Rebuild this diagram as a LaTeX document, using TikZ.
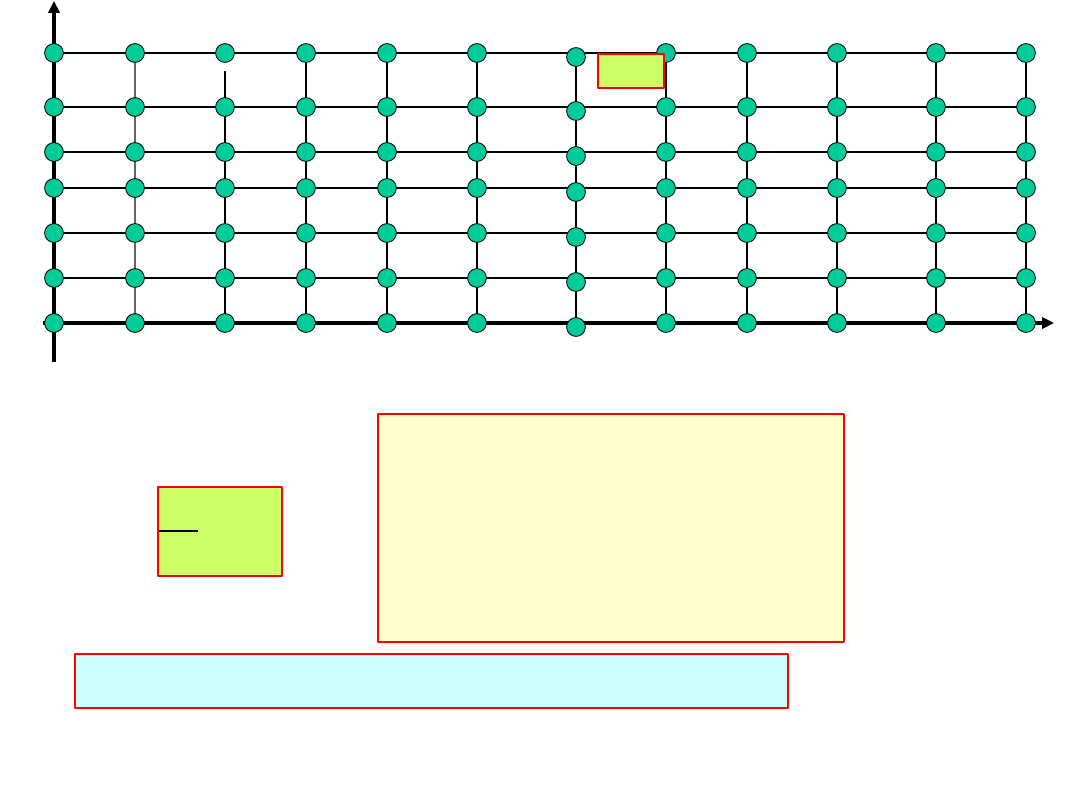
\documentclass[tikz,border=0pt]{standalone}
\usetikzlibrary{backgrounds,arrows.meta}
\definecolor{dotgreen}{HTML}{00CC99}
\definecolor{limebox}{HTML}{CCFF66}
\definecolor{creambox}{HTML}{FFFFCC}
\definecolor{cyanbox}{HTML}{CCFFFF}
\tikzset{
	dot/.style={circle, draw=black, line width=0.6pt, fill=dotgreen, inner sep=0pt, minimum size=0.47cm},
	gridline/.style={line width=1.6pt},
	faintline/.style={line width=1.1pt, draw=black!60},
	axis/.style={line width=2.9pt, -{Triangle[length=8.5pt,width=8pt]}},
	box/.style={draw=red, line width=1.3pt, inner sep=0pt, anchor=north west}
}
\begin{document}
\begin{tikzpicture}[x=0.025cm, y=-0.025cm, line join=round]
	\useasboundingbox (0,0) rectangle (1080,810);
	% grid points (column 7 sits a little lower)
	\foreach \c/\x/\dy in {1/54/0,2/135/0,3/225/0,4/306/0,5/387/0,6/477/0,7/576/4,8/666/0,9/747/0,10/837/0,11/936/0,12/1026/0}
		\foreach \r/\y in {1/53,2/107,3/152,4/188,5/233,6/278,7/323}
			\node[dot] (n-\c-\r) at (\x,\y+\dy) {};
	\coordinate (ybot) at (54,362);
	\coordinate (ytop) at (54,1);
	\coordinate (xleft) at (43,323);
	\coordinate (xright) at (1054,323);
	\coordinate (c3top) at (225,71);
	\begin{scope}[on background layer]
		\foreach \r in {1,...,6}
			\draw[gridline] (n-1-\r.center) -- (n-12-\r.center);
		\foreach \c in {4,...,12}
			\draw[gridline] (n-\c-1.center) -- (n-\c-7.center);
		\draw[faintline] (n-2-1.center) -- (n-2-7.center);
		\draw[gridline] (c3top) -- (n-3-7.center);
		\draw[axis] (xleft) -- (xright);
		\draw[axis] (ybot) -- (ytop);
	\end{scope}
	% boxes
	\node[box, fill=limebox, minimum width=1.65cm, minimum height=0.85cm] (tag) at (597,53) {};
	\node[box, fill=limebox, minimum width=3.1cm, minimum height=2.225cm] (frac) at (157,486) {};
	\draw[line width=1pt] (159,531) -- (198,531);
	\node[box, fill=creambox, minimum width=11.65cm, minimum height=5.7cm] (note) at (377,413) {};
	\node[box, fill=cyanbox, minimum width=17.825cm, minimum height=1.35cm] (hint) at (74,653) {};
\end{tikzpicture}
\end{document}
